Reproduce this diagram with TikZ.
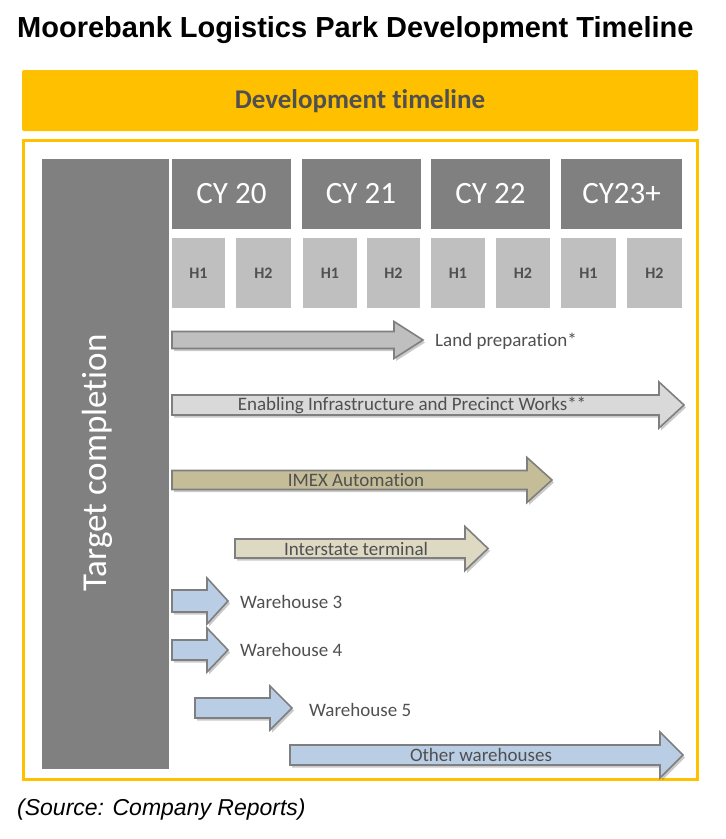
\documentclass[tikz,border=0pt]{standalone}
\usepackage{fontspec}
\setmainfont{Carlito}[Ligatures=NoCommon]
\newfontfamily\arialf{Liberation Sans}
\usetikzlibrary{shadows}
\definecolor{gold}{HTML}{FFC000}
\definecolor{dgray}{HTML}{808080}
\definecolor{lgray}{HTML}{BFBFBF}
\definecolor{txtgray}{HTML}{505050}
\definecolor{outl}{HTML}{7F7F7F}
\definecolor{cland}{HTML}{BFBFBF}
\definecolor{cenab}{HTML}{D9D9D9}
\definecolor{cimex}{HTML}{C4BD97}
\definecolor{cinter}{HTML}{DDD9C3}
\definecolor{cblue}{HTML}{B9CDE5}
\tikzset{
  cybox/.style={fill=dgray, draw=none, minimum width=119pt, minimum height=70pt, inner sep=0pt, text=white, font=\fontsize{31}{33}\selectfont},
  hbox/.style={fill=lgray, draw=none, minimum width=54pt, minimum height=70pt, inner sep=0pt, text=txtgray, font=\bfseries\fontsize{16}{18}\selectfont},
  arrlabel/.style={text=txtgray, font=\fontsize{19}{21}\selectfont, inner sep=0pt},
  blk/.style={draw=outl, line width=1.6pt, line join=miter, drop shadow={shadow xshift=2pt, shadow yshift=-2.5pt, opacity=0.35, fill=black!60}},
}
% #1 x-start, #2 x-tip, #3 y-centre, #4 body half, #5 head half, #6 head length, #7 fill
\newcommand\blockarr[7]{%
  \draw[blk, fill=#7] (#1,{#3-#4}) -- ({#2-#6},{#3-#4}) -- ({#2-#6},{#3-#5}) -- (#2,#3)
    -- ({#2-#6},{#3+#5}) -- ({#2-#6},{#3+#4}) -- (#1,{#3+#4}) -- cycle;}
\begin{document}
\begin{tikzpicture}[x=1pt,y=-1pt]
\useasboundingbox (0,0) rectangle (726,839);
% title
\node[anchor=west, inner sep=0pt, font=\arialf\bfseries\fontsize{29}{32}\selectfont] (title) at (17,30) {Moorebank Logistics Park Development Timeline};
% banner
\fill[gold, rounded corners=2pt] (22,70) rectangle (698,131);
\node[font=\bfseries\fontsize{27}{30}\selectfont, text=txtgray] (banner) at (360,101) {Development timeline};
% frame
\draw[gold, line width=3pt] (23,140) rectangle (697,779);
% left column
\fill[dgray] (42,159) rectangle (169,769);
\node[rotate=90, text=white, font=\fontsize{35}{37}\selectfont] (target) at (97,463) {Target completion};
% CY boxes
\node[cybox] (cy20) at (231.5,194) {CY 20};
\node[cybox] (cy21) at (361,194) {CY 21};
\node[cybox] (cy22) at (490.5,194) {CY 22};
\node[cybox, minimum width=121pt] (cy23) at (621.5,194) {CY23+};
% H boxes
\node[hbox, minimum width=53pt] (a1) at (198.5,273) {H1};
\node[hbox, minimum width=55pt] (a2) at (263.5,273) {H2};
\node[hbox] (b1) at (330,273) {H1};
\node[hbox, minimum width=53pt] (b2) at (393.5,273) {H2};
\node[hbox] (c1) at (458,273) {H1};
\node[hbox] (c2) at (523,273) {H2};
\node[hbox, minimum width=55pt] (d1) at (588.5,273) {H1};
\node[hbox, minimum width=55pt] (d2) at (654.5,273) {H2};
% arrows
\blockarr{172}{423}{340}{8.5}{18.5}{29}{cland}
\node[arrlabel, anchor=west] (land) at (435,341) {Land preparation*};
\blockarr{172}{684}{405}{10}{23}{25}{cenab}
\node[arrlabel] (enab) at (412,405) {Enabling Infrastructure and Precinct Works**};
\blockarr{172}{552}{480}{9.5}{22.5}{25}{cimex}
\node[arrlabel] (imex) at (356,480) {IMEX Automation};
\blockarr{235}{488}{548.5}{9.5}{22}{23}{cinter}
\node[arrlabel] (inter) at (356,549) {Interstate terminal};
\blockarr{172}{228}{601}{11}{23}{21}{cblue}
\node[arrlabel, anchor=west] (w3) at (240,602) {Warehouse 3};
\blockarr{172}{228}{650}{10}{22}{21}{cblue}
\node[arrlabel, anchor=west] (w4) at (240,650) {Warehouse 4};
\blockarr{195}{292}{708}{10}{22}{22}{cblue}
\node[arrlabel, anchor=west] (w5) at (309,710) {Warehouse 5};
\blockarr{290}{683}{755}{10}{23}{23}{cblue}
\node[arrlabel] (other) at (481,755) {Other warehouses};
% source
\node[anchor=west, inner sep=0pt, font=\arialf\itshape\fontsize{23}{26}\selectfont] (src) at (17,810) {(Source: Company Reports)};
\end{tikzpicture}
\end{document}
